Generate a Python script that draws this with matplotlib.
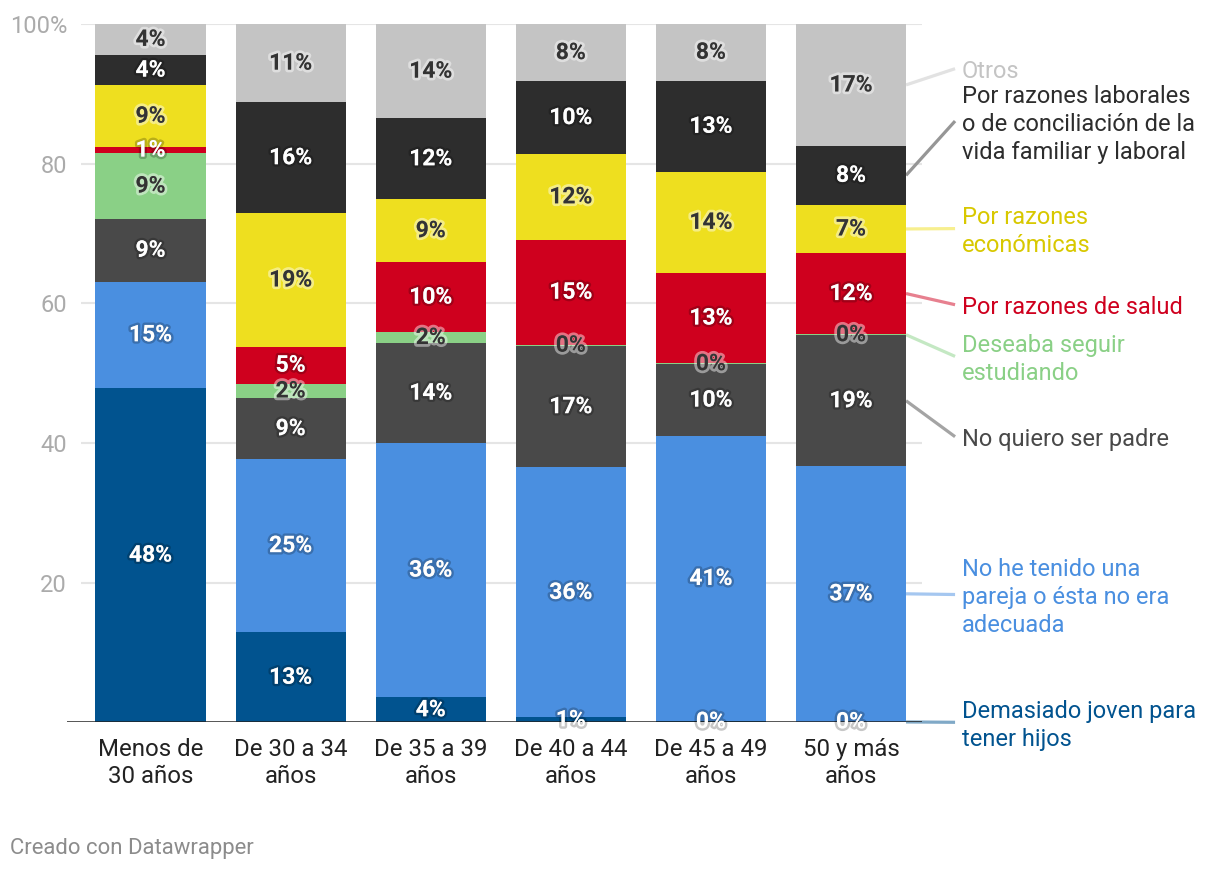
import matplotlib
matplotlib.use("Agg")
import matplotlib.pyplot as plt
import matplotlib.patheffects as pe
import numpy as np
from matplotlib.colors import to_rgb

plt.rcParams["font.family"] = ["Roboto", "DejaVu Sans"]

# --- data -------------------------------------------------------------------
categories = ["Menos de\n30 años", "De 30 a 34\naños", "De 35 a 39\naños",
              "De 40 a 44\naños", "De 45 a 49\naños", "50 y más\naños"]

series_names = [
    "Demasiado joven para\ntener hijos",
    "No he tenido una\npareja o ésta no era\nadecuada",
    "No quiero ser padre",
    "Deseaba seguir\nestudiando",
    "Por razones de salud",
    "Por razones\neconómicas",
    "Por razones laborales\no de conciliación de la\nvida familiar y laboral",
    "Otros",
]

demasiado_joven = [47.9, 12.9, 3.6, 0.7, 0.2, 0.1]
sin_pareja      = [15.2, 24.8, 36.4, 35.8, 40.8, 36.6]
no_quiero       = [9.0, 8.7, 14.3, 17.4, 10.3, 18.7]
estudiando      = [9.4, 2.1, 1.6, 0.2, 0.1, 0.2]
salud           = [0.9, 5.3, 10.0, 15.0, 13.0, 11.6]
economicas      = [8.8, 19.1, 9.0, 12.3, 14.4, 6.9]
laborales       = [4.4, 15.9, 11.6, 10.4, 13.1, 8.45]
otros           = [4.4, 11.2, 13.5, 8.2, 8.1, 17.45]

series = [demasiado_joven, sin_pareja, no_quiero, estudiando,
          salud, economicas, laborales, otros]

# --- style ------------------------------------------------------------------
colors = ["#01538f", "#4a8fe0", "#494949", "#8ad086",
          "#cf001e", "#eedf1f", "#2d2d2d", "#c4c4c4"]
text_colors = ["#01538f", "#4a8fe0", "#494949", "#8ad086",
               "#cf001e", "#d8c800", "#2d2d2d", "#c4c4c4"]
dark_label = [False, False, False, True, False, True, False, True]
# where the connector lines end on the right (labels moved apart by hand)
label_y = [0, 18.3, 40.9, 52.4, 59.8, 70.7, 86.1, 93.6]


def soften(c, a=0.5):
    r, g, b = to_rgb(c)
    return (1 - a + a * r, 1 - a + a * g, 1 - a + a * b)


fig = plt.figure(figsize=(12.2, 8.72), dpi=100)
ax = fig.add_axes([67 / 1220, 1 - 722.3 / 872, (922 - 67) / 1220, (722.3 - 24) / 872])

x = np.arange(len(categories))
width = 0.786

ax.hlines([20, 40, 60, 80, 100], -0.496, 5.507, color="#e5e5e5", lw=1.5, zorder=0)

bottom = np.zeros(len(categories))
for i, vals in enumerate(series):
    vals = np.array(vals)
    ax.bar(x, vals, width, bottom=bottom, color=colors[i], zorder=2)
    for xi, b, v in zip(x, bottom, vals):
        if dark_label[i]:
            fx = [pe.withStroke(linewidth=4, foreground=(1, 1, 1, 0.45))]
            tc = "#333333"
        else:
            fx = [pe.withStroke(linewidth=3.5, foreground=(0, 0, 0, 0.22))]
            tc = "white"
        ax.text(xi, b + v / 2, f"{v:.0f}%", ha="center", va="center",
                fontsize=16.5, fontweight="bold", color=tc, path_effects=fx, zorder=5)
    # connector + direct label
    y_start = bottom[-1] + vals[-1] / 2
    ax.plot([x[-1] + width / 2, 5.743], [y_start, label_y[i]],
            color=soften(colors[i]), lw=2.3, clip_on=False, zorder=1,
            solid_capstyle="butt")
    ax.text(5.793, label_y[i] - 0.45, series_names[i], color=text_colors[i],
            fontsize=17, ha="left", va="center", linespacing=1.27, clip_on=False)
    bottom += vals

ax.axhline(0, color="#222222", lw=1.8, zorder=3)

ax.set_xlim(-0.596, 5.507)
ax.set_ylim(0, 100)
ax.set_yticks([20, 40, 60, 80, 100], ["20", "40", "60", "80", "100%"])
ax.set_xticks(x, categories)
ax.tick_params(axis="y", length=0, pad=0, labelsize=17, labelcolor="#ababab")
ax.tick_params(axis="x", length=0, pad=11, labelsize=17.3, labelcolor="#222222")
for lbl in ax.get_xticklabels():
    lbl.set_linespacing(1.27)
for s in ax.spines.values():
    s.set_visible(False)

fig.text(10 / 1220, 1 - 848 / 872, "Creado con Datawrapper", color="#8c8c8c",
         fontsize=15.9, ha="left", va="center")

fig.savefig("out.png", dpi=100)
